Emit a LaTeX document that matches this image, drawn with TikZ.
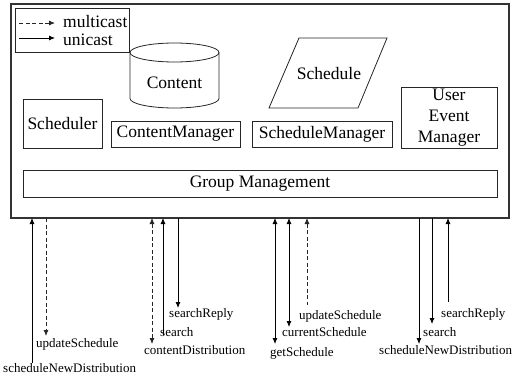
\documentclass[tikz,border=0pt]{standalone}
\usepackage{fontspec}
\setmainfont{Liberation Serif}
\usepackage{tikz}
\usetikzlibrary{
    arrows.meta,
    calc
}
\newcommand{\mainsize}{\fontsize{17.5}{21}\selectfont}
\newcommand{\smallsize}{\fontsize{13}{15}\selectfont}
\tikzset
{
  block/.style={draw=black!85,line width=0.8pt,font=\mainsize,inner sep=1pt},
  outline/.style={draw=black!85,line width=0.8pt},
  lbl/.style={font=\smallsize,inner sep=0pt,anchor=west},
  uni/.style={draw=black,line width=0.8pt},
  multi/.style={draw=black!85,line width=0.8pt,dash pattern=on 4pt off 2.5pt},
  uniUp/.style={uni,{Latex[length=6pt,width=5pt]}-},
  uniDown/.style={uni,-{Latex[length=6pt,width=5pt]}},
  uniBoth/.style={uni,{Latex[length=6pt,width=5pt]}-{Latex[length=6pt,width=5pt]}},
  multiUp/.style={multi,{Latex[length=6pt,width=5pt]}-},
  multiDown/.style={multi,-{Latex[length=6pt,width=5pt]}},
  multiBoth/.style={multi,{Latex[length=6pt,width=5pt]}-{Latex[length=6pt,width=5pt]}}
}

\begin{document}
\begin{tikzpicture}[x=1pt,y=-1pt]
        \useasboundingbox (0,0) rectangle (514,377);

        % Outer system box
        \node[draw=black!80,line width=1.2pt,minimum width=498pt,minimum height=214pt] (system) at (260,111) {};

        % Legend
        \node[block,minimum width=114pt,minimum height=44pt] (legend) at (72,30) {};
        \coordinate (legMultiA) at (19,23);
        \coordinate (legMultiB) at (55,23);
        \coordinate (legUniA) at (19,38);
        \coordinate (legUniB) at (55,38);
        \draw[multiDown] (legMultiA) -- (legMultiB);
        \draw[uniDown] (legUniA) -- (legUniB);
        \node[font=\mainsize,inner sep=0pt,anchor=west] (legMulti) at (63,22) {multicast};
        \node[font=\mainsize,inner sep=0pt,anchor=west] (legUni) at (63,40) {unicast};

        % Content store (cylinder)
        \draw[outline] (130,52.5) -- (130,98.5)
            arc[start angle=180,end angle=0,x radius=44.5,y radius=9.5] -- (219,52.5);
        \draw[outline] (174.5,52.5) ellipse [x radius=44.5,y radius=9.5];
        \node[font=\mainsize,inner sep=0pt] (content) at (174.5,83) {Content};

        % Schedule store (parallelogram)
        \coordinate (schedA) at (299,38);
        \coordinate (schedB) at (387,38);
        \coordinate (schedC) at (358,108);
        \coordinate (schedD) at (269,108);
        \draw[outline] (schedA) -- (schedB) -- (schedC) -- (schedD) -- cycle;
        \node[font=\mainsize,inner sep=0pt] (schedule) at (329,74) {Schedule};

        % Components
        \node[block,minimum width=79pt,minimum height=49pt] (scheduler) at (62.5,123.5) {Scheduler};
        \node[block,minimum width=129pt,minimum height=26pt] (contentMgr) at (175.5,134) {ContentManager};
        \node[block,minimum width=140pt,minimum height=26pt] (scheduleMgr) at (322,134) {ScheduleManager};
        \node[block,align=center,minimum width=96pt,minimum height=61pt] (userEvent) at (449,117.5) {User\\Event\\Manager};
        \node[block,minimum width=474pt,minimum height=27pt] (group) at (260,183.5) {Group Management};

        % Messages
        \foreach \x/\y/\sty/\txt/\lx/\ly [count=\i] in {
            32/363/uniUp/scheduleNewDistribution/3/368,
            46/336/multiDown/updateSchedule/36/344,
            152/344/multiBoth/contentDistribution/144/350,
            163/335/uniUp/search/160/332,
            178/308/uniDown/searchReply/169/314,
            275/344/uniBoth/getSchedule/270/353,
            289/327/uniBoth/currentSchedule/282/332,
            307/305/multiUp/updateSchedule/299/316,
            419/344/uniDown/scheduleNewDistribution/379/350,
            432/324/uniDown/search/423/332,
            448/302/uniUp/searchReply/441/314}
        {
            \coordinate (top\i) at (\x,218);
            \coordinate (end\i) at (\x,\y);
            \draw[\sty] (top\i) -- (end\i);
            \node[lbl] (msg\i) at (\lx,\ly) {\txt};
        }
    \end{tikzpicture}
\end{document}
